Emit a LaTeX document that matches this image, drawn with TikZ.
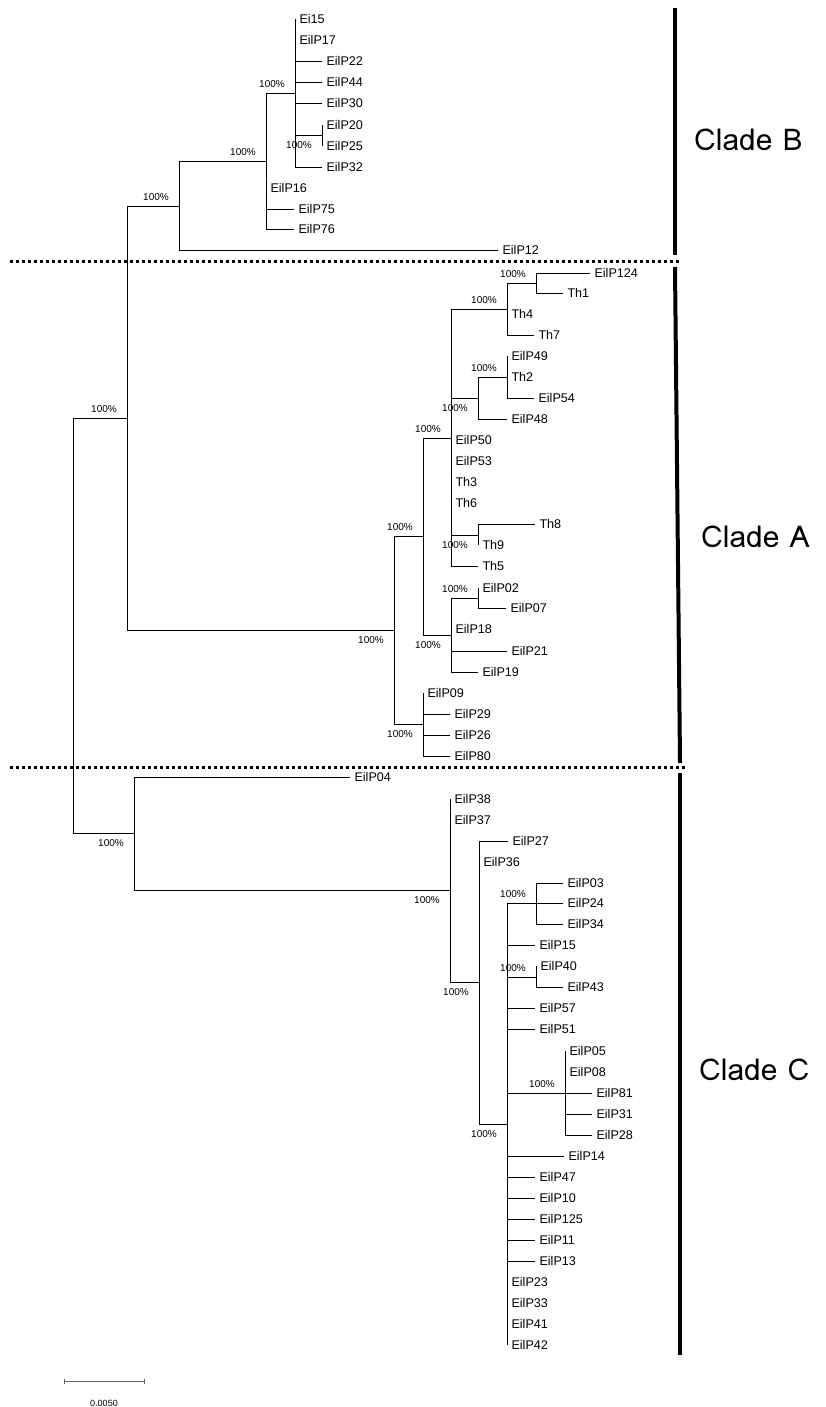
\documentclass[tikz,border=0pt]{standalone}
\usepackage{fontspec}
\setmainfont{Liberation Sans}
\newfontfamily\cladefont{Loma}
\usepackage{tikz}
\usetikzlibrary{arrows.meta,positioning,calc}
\tikzset{
  leaf/.style={anchor=west, inner xsep=4.5pt, inner ysep=0pt, outer sep=0pt,
    text height=9pt, text depth=0pt, font=\fontsize{12.6}{14}\selectfont},
  boot/.style={inner sep=0pt, font=\fontsize{10}{11}\selectfont},
  branch/.style={line width=0.8pt},
  cladebar/.style={line width=4pt},
  sepline/.style={line width=3pt, dash pattern=on 3pt off 3pt},
  cladelab/.style={anchor=west, inner sep=0pt, font=\cladefont\fontsize{30}{32}\selectfont},
}
\newcommand{\Leaf}[2]{\node[leaf] (#1) at (#2) {#1};}
\newcommand{\BootUp}[1]{\node[boot, anchor=east] (b#1) at ($(#1)+(-10,-9)$) {100\%};}
\newcommand{\BootDown}[1]{\node[boot, anchor=east] (b#1) at ($(#1)+(-10,10)$) {100\%};}
\begin{document}
\begin{tikzpicture}[x=1pt,y=-1pt]
  \useasboundingbox (0,0) rectangle (825,1407);

  % inner nodes
  \coordinate (root) at (73,625.5);
  \coordinate (n127) at (127,418);
  \coordinate (n179) at (179,206);
  \coordinate (n266) at (266,161);
  \coordinate (n295) at (295,93);
  \coordinate (n322) at (322,135.5);
  \coordinate (n394) at (394,630);
  \coordinate (n423) at (423,536);
  \coordinate (n451) at (451,438);
  \coordinate (n507) at (507,309);
  \coordinate (n536) at (536,283);
  \coordinate (n478) at (478,398);
  \coordinate (n507b) at (507,377);
  \coordinate (n478t) at (478,535);
  \coordinate (n451b) at (451,635);
  \coordinate (n478c) at (478,598);
  \coordinate (n423b) at (423,724);
  \coordinate (n134) at (134,833);
  \coordinate (n450) at (450,890);
  \coordinate (n479) at (479,982);
  \coordinate (n507c) at (507,1124);
  \coordinate (n536c) at (536,903);
  \coordinate (n536d) at (536,977);
  \coordinate (n565) at (565,1093);

  % clade B leaves
  \Leaf{Ei15}{295,19}
  \Leaf{EilP17}{295,40}
  \Leaf{EilP22}{322,61}
  \Leaf{EilP44}{322,82}
  \Leaf{EilP30}{322,103}
  \Leaf{EilP20}{322,125}
  \Leaf{EilP25}{322,146}
  \Leaf{EilP32}{322,167}
  \Leaf{EilP16}{266,188}
  \Leaf{EilP75}{294,209}
  \Leaf{EilP76}{294,229}
  \Leaf{EilP12}{498,250}

  % clade A leaves
  \Leaf{EilP124}{590,273}
  \Leaf{Th1}{563,293}
  \Leaf{Th4}{507,314}
  \Leaf{Th7}{534,335}
  \Leaf{EilP49}{507,356}
  \Leaf{Th2}{507,377}
  \Leaf{EilP54}{534,398}
  \Leaf{EilP48}{507,419}
  \Leaf{EilP50}{451,440}
  \Leaf{EilP53}{451,461}
  \Leaf{Th3}{451,482}
  \Leaf{Th6}{451,503}
  \Leaf{Th8}{535,524}
  \Leaf{Th9}{478,545}
  \Leaf{Th5}{478,566}
  \Leaf{EilP02}{478,588}
  \Leaf{EilP07}{506,608}
  \Leaf{EilP18}{451,629}
  \Leaf{EilP21}{507,651}
  \Leaf{EilP19}{478,672}
  \Leaf{EilP09}{423,693}
  \Leaf{EilP29}{450,714}
  \Leaf{EilP26}{450,735}
  \Leaf{EilP80}{450,756}

  % clade C leaves
  \Leaf{EilP04}{350,777}
  \Leaf{EilP38}{450,799}
  \Leaf{EilP37}{450,820}
  \Leaf{EilP27}{508,841}
  \Leaf{EilP36}{479,862}
  \Leaf{EilP03}{563,883}
  \Leaf{EilP24}{563,903}
  \Leaf{EilP34}{563,924}
  \Leaf{EilP15}{535,945}
  \Leaf{EilP40}{536,966}
  \Leaf{EilP43}{563,987}
  \Leaf{EilP57}{535,1008}
  \Leaf{EilP51}{535,1029}
  \Leaf{EilP05}{565,1051}
  \Leaf{EilP08}{565,1072}
  \Leaf{EilP81}{592,1093}
  \Leaf{EilP31}{592,1114}
  \Leaf{EilP28}{592,1135}
  \Leaf{EilP14}{564,1156}
  \Leaf{EilP47}{535,1177}
  \Leaf{EilP10}{535,1198}
  \Leaf{EilP125}{535,1219}
  \Leaf{EilP11}{535,1240}
  \Leaf{EilP13}{535,1261}
  \Leaf{EilP23}{507,1282}
  \Leaf{EilP33}{507,1303}
  \Leaf{EilP41}{507,1324}
  \Leaf{EilP42}{507,1345}

  % branches
  \foreach \c in {n127,n134} \draw[branch] (root) |- (\c);
  \foreach \c in {n179,n394} \draw[branch] (n127) |- (\c);
  \foreach \c in {n266,EilP12} \draw[branch] (n179) |- (\c);
  \foreach \c in {n295,EilP16,EilP75,EilP76} \draw[branch] (n266) |- (\c);
  \foreach \c in {Ei15,EilP17,EilP22,EilP44,EilP30,n322,EilP32} \draw[branch] (n295) |- (\c);
  \foreach \c in {EilP20,EilP25} \draw[branch] (n322) |- (\c);
  \foreach \c in {n423,n423b} \draw[branch] (n394) |- (\c);
  \foreach \c in {n451,n451b} \draw[branch] (n423) |- (\c);
  \foreach \c in {n507,n478,EilP50,EilP53,Th3,Th6,n478t,Th5} \draw[branch] (n451) |- (\c);
  \foreach \c in {n536,Th4,Th7} \draw[branch] (n507) |- (\c);
  \foreach \c in {EilP124,Th1} \draw[branch] (n536) |- (\c);
  \foreach \c in {n507b,EilP48} \draw[branch] (n478) |- (\c);
  \foreach \c in {EilP49,Th2,EilP54} \draw[branch] (n507b) |- (\c);
  \foreach \c in {Th8,Th9} \draw[branch] (n478t) |- (\c);
  \foreach \c in {n478c,EilP18,EilP21,EilP19} \draw[branch] (n451b) |- (\c);
  \foreach \c in {EilP02,EilP07} \draw[branch] (n478c) |- (\c);
  \foreach \c in {EilP09,EilP29,EilP26,EilP80} \draw[branch] (n423b) |- (\c);
  \foreach \c in {EilP04,n450} \draw[branch] (n134) |- (\c);
  \foreach \c in {EilP38,EilP37,n479} \draw[branch] (n450) |- (\c);
  \foreach \c in {EilP27,EilP36,n507c} \draw[branch] (n479) |- (\c);
  \foreach \c in {n536c,EilP15,n536d,EilP57,EilP51,n565,EilP14,EilP47,EilP10,EilP125,EilP11,EilP13,EilP23,EilP33,EilP41,EilP42}
    \draw[branch] (n507c) |- (\c);
  \foreach \c in {EilP03,EilP24,EilP34} \draw[branch] (n536c) |- (\c);
  \foreach \c in {EilP40,EilP43} \draw[branch] (n536d) |- (\c);
  \foreach \c in {EilP05,EilP08,EilP81,EilP31,EilP28} \draw[branch] (n565) |- (\c);

  % bootstrap values
  \BootUp{n127} \BootUp{n179} \BootUp{n266} \BootUp{n295} \BootDown{n322}
  \BootDown{n394} \BootUp{n423} \BootUp{n451} \BootUp{n507} \BootUp{n536}
  \BootDown{n478} \BootUp{n507b} \BootDown{n478t} \BootDown{n451b}
  \BootUp{n478c} \BootDown{n423b}
  \BootDown{n134} \BootDown{n450} \BootDown{n479} \BootDown{n507c}
  \BootUp{n536c} \BootUp{n536d} \BootUp{n565}

  % clade separators and bars
  \coordinate (s1l) at (10,261);  \coordinate (s1r) at (680,261);
  \coordinate (s2l) at (10,767);  \coordinate (s2r) at (687,767);
  \draw[sepline] (s1l) -- (s1r);
  \draw[sepline] (s2l) -- (s2r);
  \coordinate (bBt) at (675,8);   \coordinate (bBb) at (675,255);
  \coordinate (bAt) at (675,267); \coordinate (bAb) at (680,763);
  \coordinate (bCt) at (680,773); \coordinate (bCb) at (680,1355);
  \draw[cladebar] (bBt) -- (bBb);
  \draw[cladebar] (bAt) -- (bAb);
  \draw[cladebar] (bCt) -- (bCb);
  \node[cladelab] (cladeB) at (694,140) {Clade B};
  \node[cladelab] (cladeA) at (701,537) {Clade A};
  \node[cladelab] (cladeC) at (699,1070) {Clade C};

  % scale bar
  \coordinate (sbl) at (64,1381);
  \coordinate (sbr) at (145,1381);
  \draw[line width=0.8pt, black!60, {Bar[width=5pt]}-{Bar[width=5pt]}] (sbl) -- (sbr);
  \node[boot, font=\fontsize{9}{11}\selectfont] (sblab) at (104,1403) {0.0050};
\end{tikzpicture}
\end{document}
